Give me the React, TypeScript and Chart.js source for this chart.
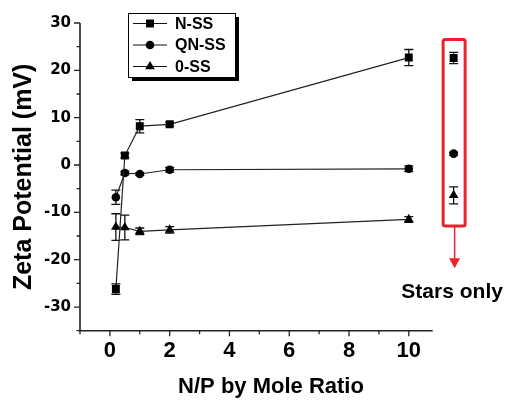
import React, { useEffect, useRef } from 'react';
import { Chart, registerables } from 'chart.js';

Chart.register(...registerables);

// ---- data ----
const xValues = [0.2, 0.5, 1, 2, 10];
const seriesLabels = ['N-SS', 'QN-SS', '0-SS'];
const nssValues = [-26.2, 2.0, 8.2, 8.6, 22.7];
const nssErrors = [1.1, 0.5, 1.4, 0.4, 1.7];
const qnssValues = [-6.8, -1.7, -1.9, -1.0, -0.8];
const qnssErrors = [1.5, 0.4, 0.3, 0.5, 0.6];
const ossValues = [-13.1, -13.2, -14.0, -13.7, -11.5];
const ossErrors = [2.8, 2.6, 0.7, 0.7, 0.6];
const starsX = 11.5;
const starsValues = [22.6, 2.4, -6.4];
const starsErrors = [1.2, 0.3, 1.8];
const starsLabel = 'Stars only';
const xTickLabels = [0, 2, 4, 6, 8, 10];
const yTickLabels = [-30, -20, -10, 0, 10, 20, 30];
const xTitle = 'N/P by Mole Ratio';
const yTitle = 'Zeta Potential (mV)';

// ---- layout / style constants ----
const W = 508;
const H = 403;
const X_MIN = -1;
const X_MAX = 11.78;
const X_AXIS_END = 10.8;
const Y_MIN = -35;
const Y_MAX = 30;
const BOX_TOP = 26.5;
const BOX_BOTTOM = -12.9;
const ARROW_TIP = -21.8;
const TEXT_BASE = -28.0;
const pointStyles = ['rect', 'circle', 'triangle'];
const pointRadii = [5.6, 4.3, 5.6];
const INK = '#111111';
const RED = '#e8232b';

function drawMarker(ctx: CanvasRenderingContext2D, style: string, x: number, y: number, r: number) {
  ctx.beginPath();
  if (style === 'rect') {
    const s = r * Math.SQRT1_2;
    ctx.rect(x - s, y - s, 2 * s, 2 * s);
  } else if (style === 'circle') {
    ctx.arc(x, y, r, 0, Math.PI * 2);
  } else {
    let rad = 0;
    ctx.moveTo(x + Math.sin(rad) * r, y - Math.cos(rad) * r);
    rad += (Math.PI * 2) / 3;
    ctx.lineTo(x + Math.sin(rad) * r, y - Math.cos(rad) * r);
    rad += (Math.PI * 2) / 3;
    ctx.lineTo(x + Math.sin(rad) * r, y - Math.cos(rad) * r);
    ctx.closePath();
  }
  ctx.fill();
}

const customPlugin = {
  id: 'customDecor',
  beforeDatasetsDraw(chart: any) {
    const ctx: CanvasRenderingContext2D = chart.ctx;
    const xs = chart.scales.x;
    const ys = chart.scales.y;
    ctx.save();
    ctx.strokeStyle = INK;
    ctx.lineWidth = 1.3;
    chart.data.datasets.forEach((ds: any) => {
      if (!ds.errors) return;
      ds.data.forEach((p: any, i: number) => {
        const e = ds.errors[i];
        if (!e) return;
        const px = xs.getPixelForValue(p.x);
        const y1 = ys.getPixelForValue(p.y + e);
        const y2 = ys.getPixelForValue(p.y - e);
        ctx.beginPath();
        ctx.moveTo(px, y1);
        ctx.lineTo(px, y2);
        ctx.moveTo(px - 4.5, y1);
        ctx.lineTo(px + 4.5, y1);
        ctx.moveTo(px - 4.5, y2);
        ctx.lineTo(px + 4.5, y2);
        ctx.stroke();
      });
    });
    ctx.restore();
  },
  afterDraw(chart: any) {
    const ctx: CanvasRenderingContext2D = chart.ctx;
    const xs = chart.scales.x;
    const ys = chart.scales.y;
    const { left, top, bottom } = chart.chartArea;
    const xEnd = xs.getPixelForValue(X_AXIS_END);
    ctx.save();
    // axes
    ctx.strokeStyle = '#222';
    ctx.lineWidth = 1.6;
    ctx.beginPath();
    ctx.moveTo(left, top);
    ctx.lineTo(left, bottom);
    ctx.lineTo(xEnd, bottom);
    ctx.stroke();
    ctx.lineWidth = 1.3;
    ctx.beginPath();
    ys.ticks.forEach((t: any) => {
      const p = ys.getPixelForValue(t.value);
      const len = t.value % 10 === 0 ? 6 : 3.5;
      ctx.moveTo(left - len, p);
      ctx.lineTo(left, p);
    });
    xs.ticks.forEach((t: any) => {
      if (t.value > X_AXIS_END) return;
      const p = xs.getPixelForValue(t.value);
      const len = t.value % 2 === 0 ? 5.5 : 3.5;
      ctx.moveTo(p, bottom);
      ctx.lineTo(p, bottom + len);
    });
    ctx.stroke();

    // legend
    const lx = left + 48;
    const ly = 13;
    const lw = 107;
    const lh = 64;
    ctx.fillStyle = '#000';
    ctx.fillRect(lx + 4, ly + 4, lw, lh);
    ctx.fillStyle = '#fff';
    ctx.fillRect(lx, ly, lw, lh);
    ctx.strokeStyle = '#000';
    ctx.lineWidth = 1;
    ctx.strokeRect(lx + 0.5, ly + 0.5, lw, lh);
    ctx.font = 'bold 16px "Liberation Sans", Arial, sans-serif';
    ctx.textBaseline = 'middle';
    ctx.textAlign = 'left';
    seriesLabels.forEach((lab, i) => {
      const cy = ly + 10.5 + i * 21.5;
      ctx.strokeStyle = INK;
      ctx.lineWidth = 1.2;
      ctx.beginPath();
      ctx.moveTo(lx + 5, cy);
      ctx.lineTo(lx + 39, cy);
      ctx.stroke();
      ctx.fillStyle = '#000';
      drawMarker(ctx, pointStyles[i], lx + 22, cy, pointRadii[i]);
      ctx.fillText(lab, lx + 47, cy + 1);
    });

    // red box, arrow and note
    const sx = xs.getPixelForValue(starsX);
    const bt = ys.getPixelForValue(BOX_TOP);
    const bb = ys.getPixelForValue(BOX_BOTTOM);
    ctx.strokeStyle = RED;
    ctx.lineWidth = 3;
    ctx.beginPath();
    ctx.roundRect(sx - 10.5, bt, 22, bb - bt, 2);
    ctx.stroke();
    const tip = ys.getPixelForValue(ARROW_TIP);
    ctx.lineWidth = 1.5;
    ctx.beginPath();
    ctx.moveTo(sx + 1, bb);
    ctx.lineTo(sx + 1, tip - 8);
    ctx.stroke();
    ctx.fillStyle = RED;
    ctx.beginPath();
    ctx.moveTo(sx + 1 - 5.5, tip - 10);
    ctx.lineTo(sx + 1 + 5.5, tip - 10);
    ctx.lineTo(sx + 1, tip);
    ctx.closePath();
    ctx.fill();
    ctx.fillStyle = '#000';
    ctx.font = 'bold 21px "Liberation Sans", Arial, sans-serif';
    ctx.textAlign = 'center';
    ctx.textBaseline = 'alphabetic';
    ctx.fillText(starsLabel, sx - 1.5, ys.getPixelForValue(TEXT_BASE));
    ctx.restore();
  },
};

export default function App() {
  const ref = useRef<HTMLCanvasElement | null>(null);
  useEffect(() => {
    if (!ref.current) return;
    const mk = (vals: number[]) => vals.map((v, i) => ({ x: xValues[i], y: v }));
    const seriesVals = [nssValues, qnssValues, ossValues];
    const seriesErrs = [nssErrors, qnssErrors, ossErrors];
    const datasets: any[] = seriesVals.map((vals, i) => ({
      label: seriesLabels[i],
      data: mk(vals),
      errors: seriesErrs[i],
      showLine: true,
      borderColor: '#222',
      borderWidth: 1.2,
      backgroundColor: '#000',
      pointBackgroundColor: '#000',
      pointBorderColor: '#000',
      pointBorderWidth: 0,
      pointStyle: pointStyles[i],
      pointRadius: pointRadii[i],
      tension: 0,
    }));
    starsValues.forEach((v, i) => {
      datasets.push({
        label: starsLabel + ' ' + seriesLabels[i],
        data: [{ x: starsX, y: v }],
        errors: [starsErrors[i]],
        showLine: false,
        backgroundColor: '#000',
        pointBackgroundColor: '#000',
        pointBorderColor: '#000',
        pointBorderWidth: 0,
        pointStyle: pointStyles[i],
        pointRadius: pointRadii[i],
      });
    });
    const chart = new Chart(ref.current, {
      type: 'scatter',
      data: { datasets },
      options: {
        responsive: false,
        animation: false,
        devicePixelRatio: 1,
        layout: { padding: { left: 0, top: 23, right: 46, bottom: 0 } },
        plugins: { legend: { display: false }, tooltip: { enabled: false } },
        scales: {
          x: {
            type: 'linear',
            min: X_MIN,
            max: X_MAX,
            grid: { display: false, drawTicks: false },
            border: { display: false },
            ticks: {
              stepSize: 1,
              includeBounds: false,
              padding: 7,
              color: '#000',
              font: { family: '"Liberation Sans", Arial, sans-serif', size: 22, weight: 'bold' },
              autoSkip: false,
              maxRotation: 0,
              callback: (v: any) => (xTickLabels.includes(Number(v)) ? String(v) : ''),
            },
            title: {
              display: true,
              text: xTitle,
              color: '#000',
              padding: { top: 0, bottom: 3 },
              font: { family: '"Liberation Sans", Arial, sans-serif', size: 22, weight: 'bold' },
            },
            afterFit: (s: any) => {
              s.height = 72.3;
            },
          },
          y: {
            type: 'linear',
            min: Y_MIN,
            max: Y_MAX,
            grid: { display: false, drawTicks: false },
            border: { display: false },
            ticks: {
              stepSize: 5,
              padding: 9,
              color: '#000',
              autoSkip: false,
              font: { family: '"DejaVu Sans", sans-serif', size: 15, weight: 'bold' },
              callback: (v: any) => (yTickLabels.includes(Number(v)) ? String(v) : ''),
            },
            title: {
              display: true,
              text: yTitle,
              color: '#000',
              padding: { top: 9, bottom: 0 },
              font: { family: '"Liberation Sans", Arial, sans-serif', size: 25, weight: 'bold' },
            },
            afterFit: (s: any) => {
              s.width = 80;
            },
          },
        },
      } as any,
      plugins: [customPlugin],
    });
    return () => chart.destroy();
  }, []);
  return (
    <div style={{ position: 'absolute', left: 0, top: 0, width: W, height: H, background: '#fff' }}>
      <canvas ref={ref} width={W} height={H} />
    </div>
  );
}
